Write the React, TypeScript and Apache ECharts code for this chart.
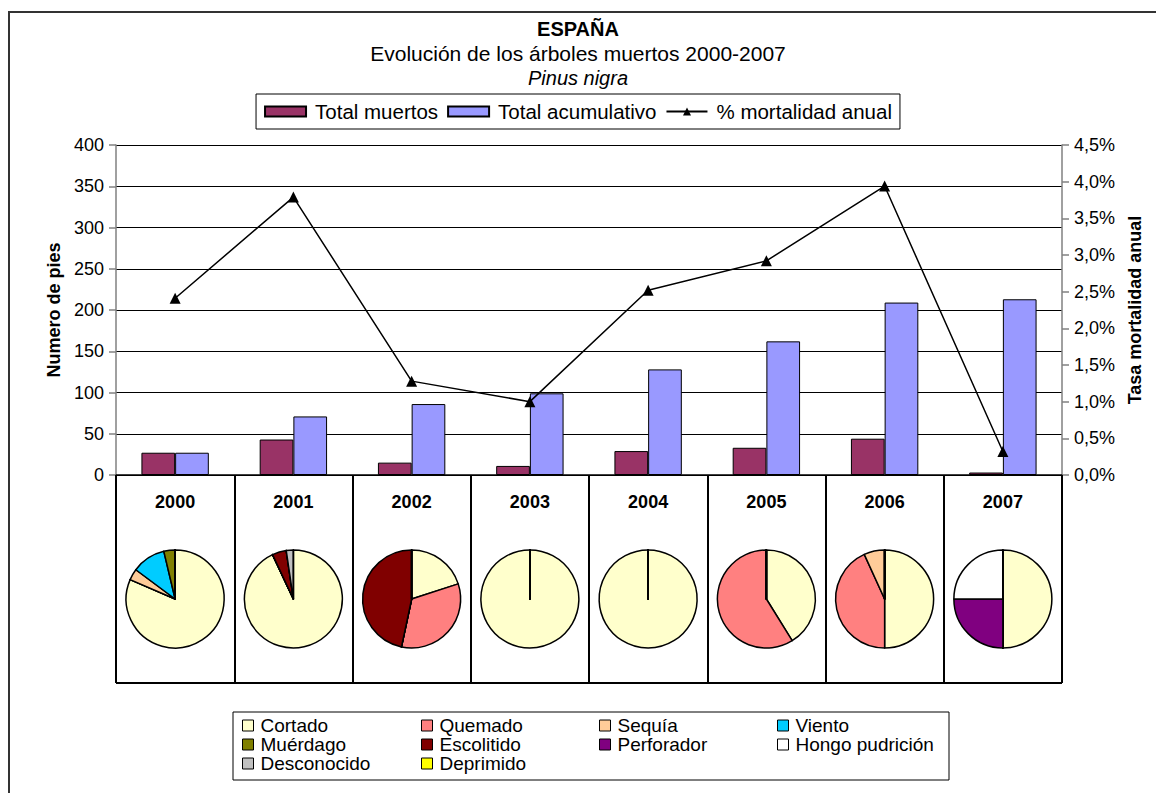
import React, { useEffect, useRef } from 'react';
import * as echarts from 'echarts';

const FONT = "'Liberation Sans', Arial, sans-serif";

const CATEGORIES = ['2000', '2001', '2002', '2003', '2004', '2005', '2006', '2007'];
const TOTAL_MUERTOS = [27, 43, 15, 11, 29, 33, 44, 3];
const TOTAL_ACUMULATIVO = [27, 71, 86, 99, 128, 162, 209, 213];
const MORTALIDAD_ANUAL = [2.41, 3.79, 1.28, 1.0, 2.52, 2.92, 3.94, 0.32];

const CAUSES = ['Cortado', 'Quemado', 'Sequía', 'Viento', 'Muérdago', 'Escolitido', 'Perforador', 'Hongo pudrición', 'Desconocido', 'Deprimido'];
const CAUSE_COLORS = ['#FFFFCC', '#FF8080', '#FFCC99', '#00CCFF', '#808000', '#800000', '#800080', '#FFFFFF', '#C0C0C0', '#FFFF00'];

// dead trees per cause, per year (same order as CAUSES)
const CAUSES_2000 = [22, 0, 1, 3, 1, 0, 0, 0, 0, 0];
const CAUSES_2001 = [40, 0, 0, 0, 0, 2, 0, 0, 1, 0];
const CAUSES_2002 = [3, 5, 0, 0, 0, 7, 0, 0, 0, 0];
const CAUSES_2003 = [11, 0, 0, 0, 0, 0, 0, 0, 0, 0];
const CAUSES_2004 = [29, 0, 0, 0, 0, 0, 0, 0, 0, 0];
const CAUSES_2005 = [14, 20, 0, 0, 0, 0, 0, 0, 0, 0];
const CAUSES_2006 = [22, 19, 3, 0, 0, 0, 0, 0, 0, 0];
const CAUSES_2007 = [2, 0, 0, 0, 0, 0, 1, 1, 0, 0];
const CAUSES_BY_YEAR = [CAUSES_2000, CAUSES_2001, CAUSES_2002, CAUSES_2003, CAUSES_2004, CAUSES_2005, CAUSES_2006, CAUSES_2007];

const LEGEND_COLUMNS = [
  ['Cortado', 'Muérdago', 'Desconocido'],
  ['Quemado', 'Escolitido', 'Deprimido'],
  ['Sequía', 'Perforador'],
  ['Viento', 'Hongo pudrición'],
];

// layout
const W = 1156;
const H = 793;
const PLOT_L = 116;
const PLOT_R = 1062;
const PLOT_T = 145;
const PLOT_B = 475;
const TABLE_B = 683;
const PIE_CY = 599;
const PIE_R = 49;
const LEG_COL_X = [242, 421, 599, 777];

function buildOption() {
  const cellW = (PLOT_R - PLOT_L) / CATEGORIES.length;
  const pies = CATEGORIES.map((year, i) => ({
    type: 'pie',
    name: year,
    center: [PLOT_L + (i + 0.5) * cellW, PIE_CY],
    radius: [0, PIE_R],
    startAngle: 90,
    clockwise: true,
    silent: true,
    avoidLabelOverlap: false,
    label: { show: false },
    labelLine: { show: false },
    emphasis: { disabled: true },
    itemStyle: { borderColor: '#000', borderWidth: 1.5 },
    data: CAUSES.map((c, k) => ({
      name: c,
      value: CAUSES_BY_YEAR[i][k],
      itemStyle: { color: CAUSE_COLORS[k] },
    })),
    z: 5,
  }));

  const pieLegends = LEGEND_COLUMNS.map((col, j) => ({
    orient: 'vertical',
    left: LEG_COL_X[j],
    top: 716,
    padding: 0,
    itemGap: 0,
    itemWidth: 11,
    itemHeight: 11,
    itemStyle: { borderColor: '#000', borderWidth: 1 },
    icon: 'rect',
    selectedMode: false,
    data: col,
    textStyle: { fontFamily: FONT, fontSize: 19, lineHeight: 19, color: '#000', padding: [0, 0, 0, 2] },
  }));

  return {
    animation: false,
    backgroundColor: '#fff',
    textStyle: { fontFamily: FONT },
    title: [
      { text: 'ESPAÑA', left: 'center', top: 19, padding: 0, textStyle: { fontFamily: FONT, fontSize: 20, fontWeight: 'bold', color: '#000' } },
      { text: 'Evolución de los árboles muertos 2000-2007', left: 'center', top: 43, padding: 0, textStyle: { fontFamily: FONT, fontSize: 21, fontWeight: 'normal', color: '#000' } },
      { text: 'Pinus nigra', left: 'center', top: 68, padding: 0, textStyle: { fontFamily: FONT, fontSize: 20, fontStyle: 'italic', fontWeight: 'normal', color: '#000' } },
    ],
    legend: [
      {
        left: 'center',
        top: 94,
        padding: [7, 8],
        borderColor: '#000',
        borderWidth: 1,
        backgroundColor: '#fff',
        itemGap: 9,
        itemWidth: 41,
        itemHeight: 10,
        selectedMode: false,
        data: [
          { name: 'Total muertos', icon: 'rect' },
          { name: 'Total acumulativo', icon: 'rect' },
          { name: '% mortalidad anual' },
        ],
        textStyle: { fontFamily: FONT, fontSize: 20.5, color: '#000', padding: [0, 0, 0, 4] },
      },
      ...pieLegends,
    ],
    grid: { left: PLOT_L, right: W - PLOT_R, top: PLOT_T, bottom: H - PLOT_B, show: false, containLabel: false },
    xAxis: {
      type: 'category',
      data: CATEGORIES,
      boundaryGap: true,
      axisLine: { show: true, lineStyle: { color: '#000', width: 1.5 } },
      axisTick: { show: true, length: TABLE_B - PLOT_B, lineStyle: { color: '#000', width: 2 } },
      axisLabel: { margin: 18, fontFamily: FONT, fontSize: 18, fontWeight: 'bold', color: '#000' },
      splitLine: { show: false },
    },
    yAxis: [
      {
        type: 'value',
        min: 0,
        max: 400,
        interval: 50,
        name: 'Numero de pies',
        nameLocation: 'middle',
        nameRotate: 90,
        nameGap: 52,
        nameTextStyle: { fontFamily: FONT, fontSize: 18, fontWeight: 'bold', color: '#000' },
        axisLine: { show: true, lineStyle: { color: '#808080', width: 1.5 } },
        axisTick: { show: true, length: 7, lineStyle: { color: '#808080', width: 1.5 } },
        axisLabel: { fontFamily: FONT, fontSize: 18, color: '#000', margin: 12 },
        splitLine: { show: true, lineStyle: { color: '#000', width: 1 } },
      },
      {
        type: 'value',
        min: 0,
        max: 4.5,
        interval: 0.5,
        position: 'right',
        name: 'Tasa mortalidad anual',
        nameLocation: 'middle',
        nameRotate: 90,
        nameGap: 64,
        nameTextStyle: { fontFamily: FONT, fontSize: 18, fontWeight: 'bold', color: '#000' },
        axisLine: { show: true, lineStyle: { color: '#808080', width: 1.5 } },
        axisTick: { show: true, length: 7, lineStyle: { color: '#808080', width: 1.5 } },
        axisLabel: {
          fontFamily: FONT,
          fontSize: 18,
          color: '#000',
          margin: 12,
          formatter: (v: number) => v.toFixed(1).replace('.', ',') + '%',
        },
        splitLine: { show: false },
      },
    ],
    series: [
      {
        type: 'bar',
        name: 'Total muertos',
        data: TOTAL_MUERTOS,
        barGap: '0%',
        barCategoryGap: '43%',
        itemStyle: { color: '#993366', borderColor: '#000', borderWidth: 1 },
        silent: true,
      },
      {
        type: 'bar',
        name: 'Total acumulativo',
        data: TOTAL_ACUMULATIVO,
        barGap: '0%',
        barCategoryGap: '43%',
        itemStyle: { color: '#9999FF', borderColor: '#000', borderWidth: 1 },
        silent: true,
      },
      {
        type: 'line',
        name: '% mortalidad anual',
        yAxisIndex: 1,
        data: MORTALIDAD_ANUAL,
        symbol: 'triangle',
        symbolSize: 11,
        lineStyle: { color: '#000', width: 1.5 },
        itemStyle: { color: '#000' },
        silent: true,
        z: 4,
      },
      ...pies,
    ],
    graphic: [
      { type: 'rect', shape: { x: 9, y: 12, width: 1170, height: 820 }, style: { fill: 'none', stroke: '#333', lineWidth: 2 }, silent: true },
      { type: 'line', shape: { x1: PLOT_L, y1: TABLE_B, x2: PLOT_R, y2: TABLE_B }, style: { stroke: '#000', lineWidth: 2 }, silent: true },
      { type: 'rect', shape: { x: 233, y: 712, width: 716, height: 68 }, style: { fill: 'none', stroke: '#000', lineWidth: 1 }, silent: true, z: -1 },
    ],
  };
}

export default function App() {
  const ref = useRef<HTMLDivElement>(null);
  useEffect(() => {
    const chart = echarts.init(ref.current!, null, { renderer: 'svg' });
    chart.setOption(buildOption() as any);
    return () => chart.dispose();
  }, []);
  return (
    <div
      ref={ref}
      style={{ position: 'fixed', left: 0, top: 0, width: W, height: H, background: '#fff' }}
    />
  );
}
